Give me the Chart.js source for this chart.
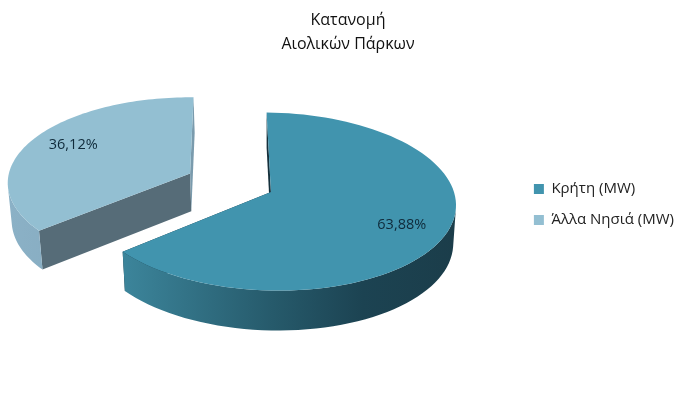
<!DOCTYPE html>
<html>
<head>
<meta charset="utf-8">
<title>Κατανομή Αιολικών Πάρκων</title>
<script src="https://cdn.jsdelivr.net/npm/chart.js@4"></script>
<style>
  html, body { margin: 0; padding: 0; background: #fff; }
  #wrap { width: 688px; height: 412px; }
</style>
</head>
<body>
<div id="wrap"><canvas id="pie" width="688" height="412"></canvas></div>
<script>
const titleLines = ["Κατανομή", "Αιολικών Πάρκων"];
const categories = ["Κρήτη (MW)", "Άλλα Νησιά (MW)"];
const shares = [63.88, 36.12];

const sliceColors = ["#4194AE", "#93BFD2"];
const sliceOffsets = [0, 90];
// wall gradient stops, left to right, and the flat cut faces
const wallStops = [
    [[0, "#3C859B"], [0.45, "#265A6B"], [0.72, "#1C4352"], [1, "#1B3D4A"]],
    [[0, "#8BB1C6"], [1, "#7FA3B8"]]
];
const cutColors = [["#15303C", "#15303C"], ["#566C78", "#7A9BAD"]];
const labelColor = "#0F2A3A";
const fontName = "'Open Sans', sans-serif";

// perspective of the tilted disc
const discRadius = 184;
const foreshorten = 0.478;
const perspective = 0.1073;
const shear = 0.02;
const depth = 38;
const viewShiftX = 6;
const viewShiftY = -42.5;
const labelRadius = 0.76;
const labelTurn = 2 * Math.PI / 180;

function project(el, u, v, z) {
    const w = 1 - perspective * v / discRadius;
    const cx = el.x + viewShiftX;
    const cy = el.y + viewShiftY;
    const shrink = 1 - z * 0.015;
    return {
        x: cx + (u / w) * shrink,
        y: cy + foreshorten * v / w + shear * u / w + z * depth * (1 + 0.05 * v / discRadius)
    };
}

function discPoint(el, angle, r) {
    const mid = (el.startAngle + el.endAngle) / 2;
    const off = el.options.offset || 0;
    return {
        u: off * Math.cos(mid) + r * Math.cos(angle),
        v: off * Math.sin(mid) + r * Math.sin(angle)
    };
}

function rimPoints(el, z) {
    const pts = [];
    const steps = 90;
    for (let i = 0; i <= steps; i++) {
        const a = el.startAngle + (el.endAngle - el.startAngle) * i / steps;
        const p = discPoint(el, a, discRadius);
        pts.push(project(el, p.u, p.v, z));
    }
    return pts;
}

function tracePoly(ctx, pts) {
    pts.forEach((p, i) => i ? ctx.lineTo(p.x, p.y) : ctx.moveTo(p.x, p.y));
    ctx.closePath();
}

function fillPoly(ctx, pts, fill) {
    ctx.beginPath();
    tracePoly(ctx, pts);
    ctx.fillStyle = fill;
    ctx.fill();
}

function signedArea(pts) {
    let sum = 0;
    pts.forEach((p, i) => {
        const q = pts[(i + 1) % pts.length];
        sum += p.x * q.y - q.x * p.y;
    });
    return sum;
}

// replaces the flat arcs with the extruded ones, angles come from the arc elements
const tiltedPie = {
    id: "tiltedPie",
    beforeDatasetsDraw(chart) {
        const ctx = chart.ctx;
        const arcs = chart.getDatasetMeta(0).data;
        arcs.forEach((el, i) => {
            const top = rimPoints(el, 0);
            const bottom = rimPoints(el, 1);
            const c = discPoint(el, 0, 0);
            const apex = project(el, c.u, c.v, 0);
            const apexLow = project(el, c.u, c.v, 1);

            // cut faces
            fillPoly(ctx, [apex, top[0], bottom[0], apexLow], cutColors[i][0]);
            fillPoly(ctx, [apex, top[top.length - 1], bottom[bottom.length - 1], apexLow], cutColors[i][1]);

            // outer wall: only the quads facing the viewer, all in one path
            const xs = top.map(p => p.x);
            const grad = ctx.createLinearGradient(Math.min(...xs), 0, Math.max(...xs), 0);
            wallStops[i].forEach(s => grad.addColorStop(s[0], s[1]));
            ctx.beginPath();
            for (let k = 0; k < top.length - 1; k++) {
                const quad = [top[k], top[k + 1], bottom[k + 1], bottom[k]];
                if (signedArea(quad) < 0) tracePoly(ctx, quad);
            }
            ctx.fillStyle = grad;
            ctx.fill();

            // top face
            fillPoly(ctx, [apex].concat(top), el.options.backgroundColor);

            // percent label
            const mid = (el.startAngle + el.endAngle) / 2 + labelTurn;
            const lp = discPoint(el, mid, discRadius * labelRadius);
            const pos = project(el, lp.u, lp.v, 0);
            ctx.fillStyle = labelColor;
            ctx.font = "14.5px " + fontName;
            ctx.textAlign = "center";
            ctx.textBaseline = "middle";
            ctx.fillText(shares[i].toFixed(2).replace(".", ",") + "%", pos.x, pos.y);
        });
        return false;
    }
};

new Chart(document.getElementById("pie"), {
    type: "pie",
    plugins: [tiltedPie],
    data: {
        labels: categories,
        datasets: [{
            data: shares,
            backgroundColor: sliceColors,
            borderWidth: 0,
            offset: sliceOffsets
        }]
    },
    options: {
        responsive: false,
        animation: false,
        rotation: -1.5,
        layout: { padding: { left: 12, right: 4, top: 0, bottom: 3 } },
        plugins: {
            tooltip: { enabled: false },
            title: {
                display: true,
                text: titleLines,
                color: "#111",
                font: { family: fontName, size: 16, weight: "normal", lineHeight: "24px" },
                padding: { top: 8, bottom: 4 }
            },
            legend: {
                position: "right",
                labels: {
                    boxWidth: 10,
                    boxHeight: 10,
                    padding: 16,
                    color: "#222",
                    font: { family: fontName, size: 15 }
                }
            }
        }
    }
});
</script>
</body>
</html>
